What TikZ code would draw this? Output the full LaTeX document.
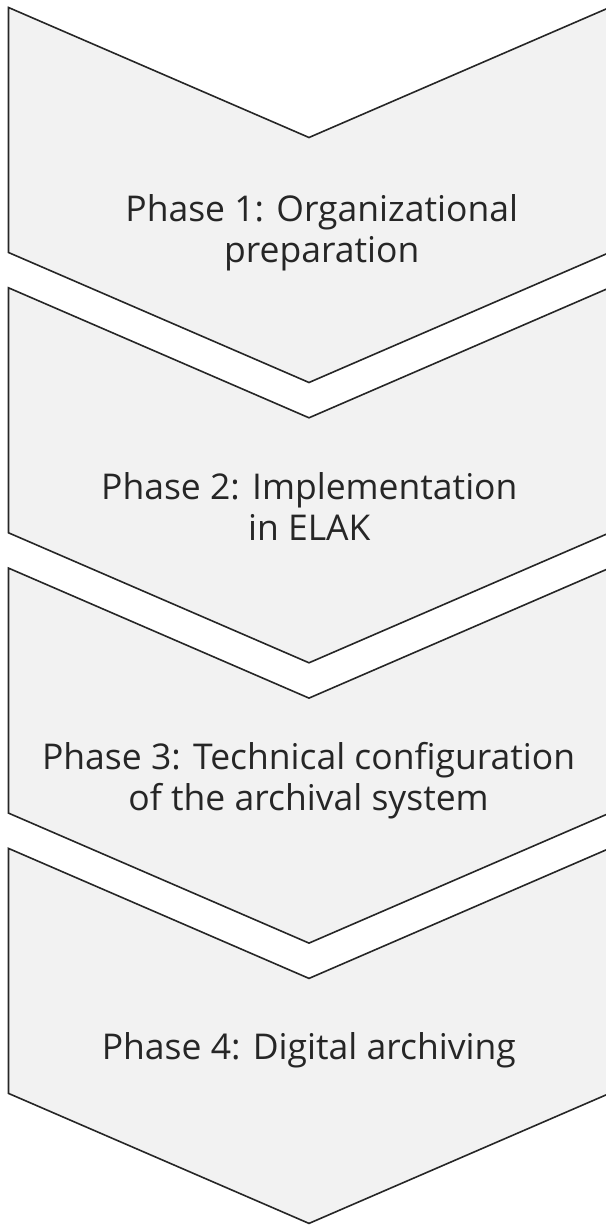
\documentclass[tikz,border=0pt]{standalone}
\usepackage{fontspec}
\setmainfont{Open Sans}
\usepackage{tikz}
\usetikzlibrary{positioning}

\definecolor{chevfill}{HTML}{F2F2F2}
\definecolor{chevline}{HTML}{262626}
\definecolor{textgrey}{HTML}{262626}

\tikzset{
  chevron/.style={draw=chevline, fill=chevfill, line width=1.6pt, line join=miter},
  phase/.style={align=center, anchor=base, text=textgrey,
    font=\fontsize{35.5}{41}\selectfont}
}

\begin{document}
\begin{tikzpicture}[x=1pt, y=-1pt]
      \tikzstyle{every node} = [inner sep = 0pt];
      \useasboundingbox (0,0) rectangle (605,1225);
      % four stacked chevrons, pitch 280.3
      \foreach \i in {0,...,3}{
        \pgfmathsetmacro{\ytop}{7.5+280.3*\i}
        \draw[chevron] (8.5,\ytop) -- (309,\ytop+130) -- (609.5,\ytop)
          -- (609.5,\ytop+245) -- (309,\ytop+375) -- (8.5,\ytop+245) -- cycle;
      }
      % labels sit on the baseline of their last line
      \node (phase1) [phase] at (321.7,262.7) {Phase 1: Organizational\\preparation};
      \node (phase2) [phase] at (309.3,540.5) {Phase 2: Implementation\\in ELAK};
      \node (phase3) [phase] at (308.6,810) {Phase 3: Technical configuration\\of the archival system};
      \node (phase4) [phase] at (308.8,1059.3) {Phase 4: Digital archiving};
    \end{tikzpicture}
\end{document}
